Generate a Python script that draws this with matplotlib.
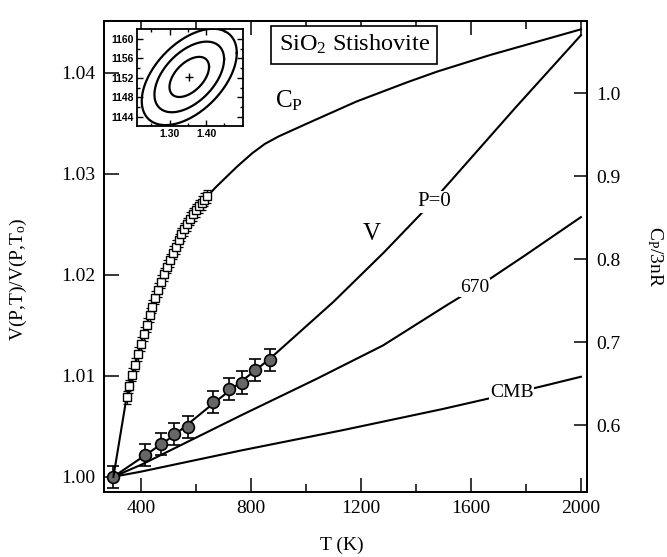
import numpy as np
import matplotlib
matplotlib.use('Agg')
import matplotlib.pyplot as plt

plt.rcParams['font.family'] = ['Liberation Serif', 'DejaVu Serif']
plt.rcParams['mathtext.fontset'] = 'custom'
plt.rcParams['mathtext.rm'] = 'Liberation Serif'
plt.rcParams['mathtext.it'] = 'Liberation Serif:italic'

# V(P,T)/V(P,To) model curves
t_p0 = [299, 413, 520, 660, 814, 869, 1099, 1283, 1442, 1524, 1764, 2000]
v_p0 = [1.0000, 1.0021, 1.0041, 1.0072, 1.0105, 1.0117, 1.0173, 1.0222, 1.0267, 1.0292, 1.0366, 1.0437]
t_670 = [299, 401, 765, 1039, 1280, 1507, 1675, 1796, 2000]
v_670 = [1.0000, 1.0012, 1.0061, 1.0097, 1.0130, 1.0169, 1.0197, 1.0219, 1.0257]
t_cmb = [299, 398, 763, 1131, 1496, 1850, 2000]
v_cmb = [1.0000, 1.0005, 1.0026, 1.0046, 1.0067, 1.0089, 1.0099]

# measured volumes (filled circles)
t_obs = [299, 413, 474, 520, 572, 660, 719, 767, 815, 869]
v_obs = [1.0000, 1.00218, 1.00327, 1.00424, 1.00492, 1.00738, 1.00865, 1.00932, 1.01059, 1.01153]
v_err = 0.0011

# Cp/3nR measured (open squares)
cp_sq_t = [347, 357, 368, 378, 389, 399, 410, 420, 431, 441, 452, 462, 473, 483, 494,
           504, 515, 525, 536, 546, 557, 567, 578, 588, 599, 609, 620, 630, 641]
cp_sq = [0.634, 0.647, 0.661, 0.673, 0.686, 0.698, 0.710, 0.721, 0.733, 0.743, 0.754,
         0.763, 0.773, 0.782, 0.791, 0.799, 0.808, 0.815, 0.823, 0.830, 0.836, 0.842,
         0.849, 0.854, 0.859, 0.864, 0.868, 0.872, 0.876]
cp_err = 0.008
# Cp/3nR model curve outside the squares
cp_lo_t, cp_lo = [299], [0.538]
cp_hi_t = [669, 700, 750, 805, 850, 900, 1000, 1183, 1366, 1476, 1669, 2000]
cp_hi = [0.886, 0.896, 0.912, 0.928, 0.939, 0.948, 0.963, 0.990, 1.013, 1.026, 1.046, 1.077]

# inset: error ellipses
ell_center = (1.354, 1152.2)
ell_sig = (0.0433, 3.28)
ell_rho = 0.5
ell_levels = [1.25, 2.2, 3.0]

fig = plt.figure(figsize=(6.67, 5.57), dpi=100)
ax = fig.add_axes([0.156, 0.117, 0.724, 0.846])
ax2 = ax.twinx()

lw = 1.5
ax.plot(t_p0, v_p0, color='black', lw=lw)
ax.plot(t_670, v_670, color='black', lw=lw)
ax.plot(t_cmb, v_cmb, color='black', lw=lw)
ax.errorbar(t_obs, v_obs, yerr=v_err, fmt='none', ecolor='black',
            elinewidth=1.2, capsize=4, capthick=1.2, zorder=3)
ax.plot(t_obs, v_obs, 'o', ms=8.5, mfc='0.4', mec='black', mew=1.2, zorder=4)

cp_line_t = cp_lo_t + cp_sq_t + cp_hi_t
cp_line = cp_lo + cp_sq + cp_hi
ax2.plot(cp_line_t, cp_line, color='black', lw=lw)
ax2.errorbar(cp_sq_t, cp_sq, yerr=cp_err, fmt='none', ecolor='black',
             elinewidth=0.9, capsize=3, capthick=0.9, zorder=3)
ax2.plot(cp_sq_t, cp_sq, 's', ms=6, mfc='white', mec='black', mew=1.0, zorder=4)

ax.set_xlim(265, 2022)
ax.set_ylim(0.99851, 1.04515)
ax2.set_ylim(0.52, 1.0875)

ax.set_xticks([400, 800, 1200, 1600, 2000])
ax.set_xticks([600, 1000, 1400, 1800], minor=True)
ax.set_yticks([1.00, 1.01, 1.02, 1.03, 1.04])
ax.set_yticklabels(['1.00', '1.01', '1.02', '1.03', '1.04'])
ax2.set_yticks([0.6, 0.7, 0.8, 0.9, 1.0])
ax2.set_yticklabels(['0.6', '0.7', '0.8', '0.9', '1.0'])

ax.tick_params(axis='x', which='major', direction='in', top=True, length=10,
               width=1.1, labelsize=14, pad=6)
ax.tick_params(axis='x', which='minor', direction='in', top=True, length=5.5, width=1.1)
ax.tick_params(axis='y', direction='in', length=11, width=1.1, labelsize=14, pad=6)
ax2.tick_params(axis='y', direction='in', length=9.5, width=1.1, labelsize=14, pad=7)
for a in (ax, ax2):
    for s in a.spines.values():
        s.set_linewidth(1.3)

ax.set_xlabel('T (K)', fontsize=14)
ax.xaxis.set_label_coords(0.493, -0.095)
ax.set_ylabel(r'V(P,T)/V(P,T$_\mathrm{o}$)', fontsize=14)
ax.yaxis.set_label_coords(-0.155, 0.452)
ax2.set_ylabel(r'C$_\mathrm{P}$/3nR', fontsize=14, rotation=270, va='center')
ax2.yaxis.set_label_coords(1.14, 0.499)

ax.text(0.383, 0.830, r'C$_\mathrm{P}$', transform=ax.transAxes, fontsize=18,
        ha='center', va='center')
ax.text(0.555, 0.548, 'V', transform=ax.transAxes, fontsize=18,
        ha='center', va='center')
box = dict(boxstyle='square,pad=0.05', fc='white', ec='none')
ax.text(1468, 1.0272, 'P=0', fontsize=15, ha='center', va='center', bbox=box, zorder=5)
ax.text(1612, 1.0187, '670', fontsize=14, ha='center', va='center', bbox=box, zorder=5)
ax.text(1748, 1.0083, 'CMB', fontsize=14, ha='center', va='center', bbox=box, zorder=5)
ax2.text(0.518, 0.949, r'SiO$_\mathrm{2}$ Stishovite', transform=ax.transAxes,
         fontsize=17.5, ha='center', va='center',
         bbox=dict(boxstyle='square,pad=0.3', fc='white', ec='black', lw=1.2))

# inset
ins = fig.add_axes([0.2048, 0.774, 0.159, 0.174])
tt = np.linspace(0, 2 * np.pi, 200)
cx, cy = ell_center
sx, sy = ell_sig
for k in ell_levels:
    ex = cx + k * sx * np.cos(tt)
    ey = cy + k * sy * (ell_rho * np.cos(tt) + np.sqrt(1 - ell_rho ** 2) * np.sin(tt))
    ins.plot(ex, ey, color='black', lw=1.6)
ins.plot([cx], [cy], 'k+', ms=6, mew=1.0)
ins.set_xlim(1.21, 1.50)
ins.set_ylim(1142.2, 1162.0)
ins_font = dict(fontsize=7.5, fontweight='bold', family=['Liberation Sans Narrow', 'Liberation Sans', 'DejaVu Sans'])
ins.set_xticks([1.30, 1.40])
ins.set_xticklabels(['1.30', '1.40'], **ins_font)
ins.set_xticks([1.25, 1.35, 1.45], minor=True)
ins.set_yticks([1144, 1148, 1152, 1156, 1160])
ins.set_yticklabels(['1144', '1148', '1152', '1156', '1160'], **ins_font)
ins.set_yticks([1146, 1150, 1154, 1158], minor=True)
ins.tick_params(which='major', direction='in', top=True, right=True, length=4, width=1, pad=2)
ins.tick_params(which='minor', direction='in', top=True, right=True, length=2.5, width=1)
for s in ins.spines.values():
    s.set_linewidth(1.3)

fig.savefig('out.png', dpi=100)
